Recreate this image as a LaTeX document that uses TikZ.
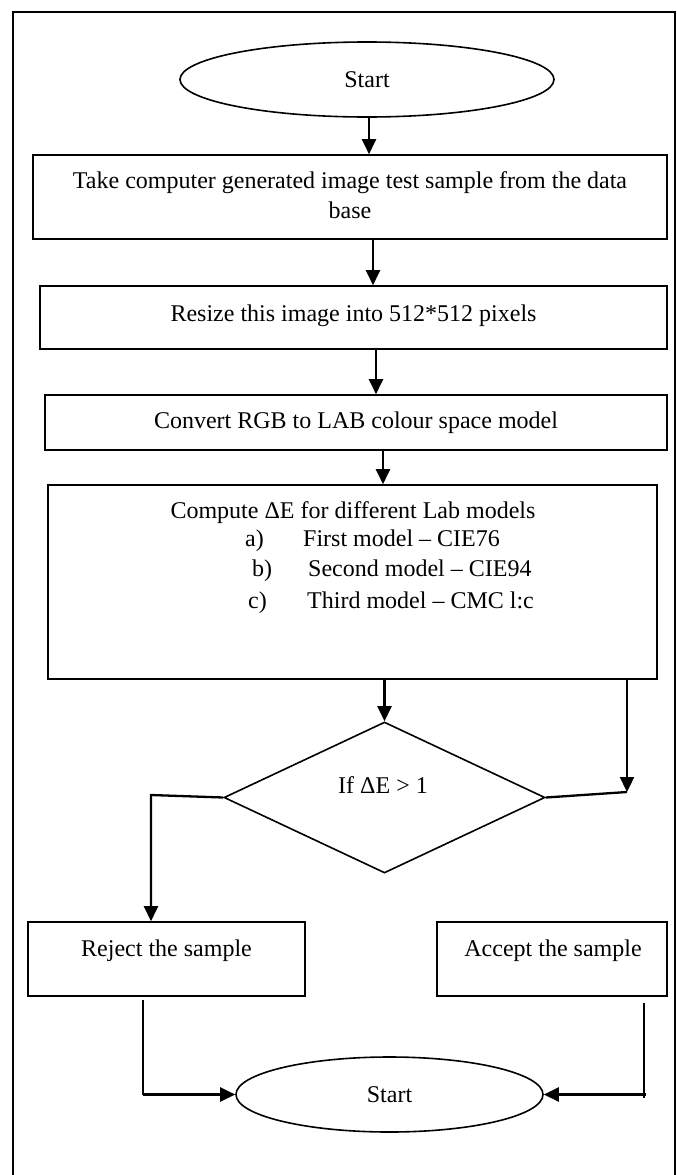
\documentclass[tikz,border=0pt]{standalone}
\usepackage{fontspec}
\setmainfont{Liberation Serif}
\usetikzlibrary{shapes.geometric,arrows.meta}
\begin{document}
\begin{tikzpicture}[x=1pt,y=-1pt,
  every node/.style={font=\fontsize{24}{30}\selectfont, inner sep=0pt},
  lbl/.style={text height=0.68em, text depth=0.22em, yshift=-6pt},
  box/.style={draw, line width=1.6pt, rectangle},
  oval/.style={draw, line width=1.6pt, ellipse},
  dia/.style={draw, line width=1.6pt, diamond},
  arr/.style={line width=2.3pt, -{Triangle[length=15pt,width=14pt]}},
  ln/.style={line width=2.3pt},
  thin/.style={line width=1.3pt}]
\useasboundingbox (0,0) rectangle (677,1175);
% frame
\draw[line width=1.6pt] (13,1176) -- (13,12) -- (675,12) -- (675,1176);
% nodes
\node[oval, minimum width=374pt, minimum height=75pt] (s1) at (367,79.5) {};
\node[lbl] (s1t) at (367,79) {Start};
\node[box, minimum width=634pt, minimum height=84pt] (b1) at (350,197) {};
\node[align=center] (b1t) at (350,195) {Take computer generated image test sample from the data\\base};
\node[box, minimum width=627pt, minimum height=63pt] (b2) at (353.5,317.5) {};
\node[lbl] (b2t) at (353.5,313) {Resize this image into 512*512 pixels};
\node[box, minimum width=622pt, minimum height=55pt] (b3) at (356,422.5) {};
\node[lbl] (b3t) at (356,420) {Convert RGB to LAB colour space model};
\node[box, minimum width=609pt, minimum height=194pt] (b4) at (352.5,582) {};
\node[lbl] (b4t) at (353,510) {Compute ΔE for different Lab models};
\node[lbl, anchor=west] (la) at (245,538) {a)};
\node[lbl, anchor=west] (ta) at (303,538) {First model – CIE76};
\node[lbl, anchor=west] (lb) at (252,568) {b)};
\node[lbl, anchor=west] (tb) at (308,568) {Second model – CIE94};
\node[lbl, anchor=west] (lc) at (248,600) {c)};
\node[lbl, anchor=west] (tc) at (307,600) {Third model – CMC l:c};
\node[dia, minimum width=321pt, minimum height=151pt] (d) at (384.5,797.5) {};
\node[lbl] (dt) at (383,785) {If ΔE > 1};
\node[box, minimum width=277pt, minimum height=74pt] (b5) at (166.5,959) {};
\node[lbl] (b5t) at (166.5,948) {Reject the sample};
\node[box, minimum width=230pt, minimum height=74pt] (b6) at (552,959) {};
\node[lbl] (b6t) at (553,948) {Accept the sample};
\node[oval, minimum width=307pt, minimum height=75pt] (e) at (389.5,1094.5) {};
\node[lbl] (et) at (389.5,1094) {Start};
% coordinates
\coordinate (rt) at (627,792);
\coordinate (lt) at (151,795);
\coordinate (rj) at (143,1094.5);
\coordinate (ac) at (644,1094.5);
% connectors
\draw[arr] ([xshift=2pt]s1.south) -- ([xshift=2pt]s1.south |- b1.north);
\draw[arr] ([xshift=23pt]b1.south) -- ([xshift=23pt]b1.south |- b2.north);
\draw[arr] ([xshift=22.5pt]b2.south) -- ([xshift=22.5pt]b2.south |- b3.north);
\draw[arr] ([xshift=27pt]b3.south) -- ([xshift=27pt]b3.south |- b4.north);
\draw[arr] (d.north |- b4.south) -- (d.north);
\draw[arr] (rt |- b4.south) -- (rt);
\draw[ln] (d.east) -- (rt);
\draw[arr] (d.west) -- (lt) -- (lt |- b5.north);
\draw[thin] ([yshift=-3pt]rj |- b5.south) -- (rj);
\draw[arr] (rj) -- (e.west);
\draw[thin] ([yshift=-6pt]ac |- b6.south) -- ([yshift=-3pt]ac);
\draw[arr] ([xshift=2pt]ac) -- (e.east);
\end{tikzpicture}
\end{document}
